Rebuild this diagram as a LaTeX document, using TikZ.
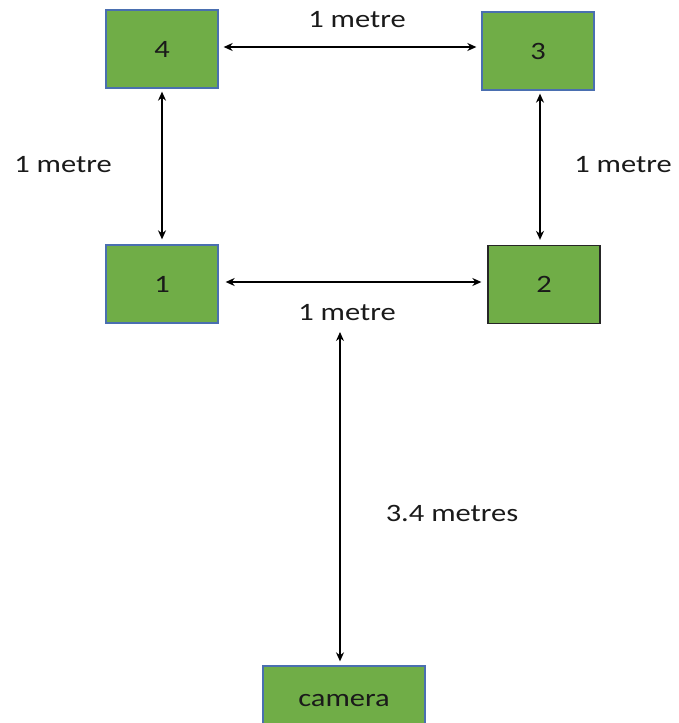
\documentclass[tikz,border=0pt]{standalone}
\usepackage{fontspec}
\setmainfont{Carlito}
\usetikzlibrary{arrows.meta,calc}
\definecolor{boxgreen}{HTML}{70AD47}
\definecolor{boxblue}{HTML}{4A6FB0}
\definecolor{txt}{HTML}{1A1A1A}
\newcommand{\wtxt}[1]{\scalebox{1.22}[1]{#1}}
\tikzset{
  box/.style={draw=boxblue, line width=1.3pt, fill=boxgreen, rectangle, inner sep=0pt,
    minimum width=112pt, minimum height=78pt, font=\fontsize{25}{30}\selectfont, text=txt},
  lbl/.style={font=\fontsize{25}{30}\selectfont, text=txt, inner sep=0pt},
  dim/.style={{Stealth[length=9pt,width=8pt]}-{Stealth[length=9pt,width=8pt]}, line width=1.3pt, black},
}
\begin{document}
\begin{tikzpicture}[x=1pt,y=1pt]
\clip (0,0) rectangle (678,-723);
\fill[white] (0,0) rectangle (678,-723);
\node[box] (b4) at (162,-49) {\wtxt{4}};
\node[box] (b3) at (538,-51) {\wtxt{3}};
\node[box] (b1) at (162,-284) {\wtxt{1}};
\node[box, draw=black!85] (b2) at (544,-284.5) {\wtxt{2}};
\node[box, minimum width=162pt, minimum height=70pt] (cam) at (344,-701) {\wtxt{camera}};
\coordinate (camtop) at (340,-332);
\draw[dim, shorten <=5pt, shorten >=5pt] (b4.east |- 0,-47) -- (b3.west |- 0,-47);
\draw[dim, shorten <=3pt, shorten >=5pt] (b4.south) -- (b4.south |- b1.north);
\draw[dim, shorten <=3pt, shorten >=5pt] (b3.south -| 540,0) -- (b2.north -| 540,0);
\draw[dim, shorten <=7pt, shorten >=6pt] (b1.east |- 0,-282) -- (b2.west |- 0,-282);
\draw[dim, shorten >=4pt] (camtop) -- (camtop |- cam.north);
\node[lbl] (t1) at (357,-20) {\wtxt{1 metre}};
\node[lbl] (t2) at (63,-165) {\wtxt{1 metre}};
\node[lbl] (t3) at (623,-165) {\wtxt{1 metre}};
\node[lbl] (t4) at (347,-313) {\wtxt{1 metre}};
\node[lbl] (t5) at (452,-513) {\wtxt{3.4 metres}};
\end{tikzpicture}
\end{document}
